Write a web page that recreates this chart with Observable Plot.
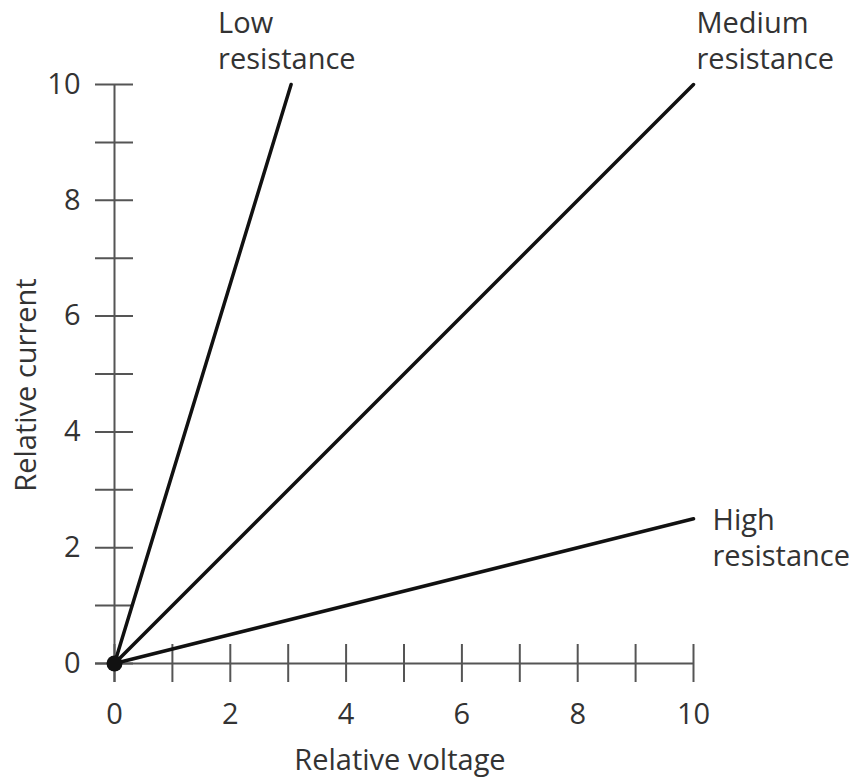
<!DOCTYPE html>
<html><head><meta charset="utf-8">
<script src="https://cdn.jsdelivr.net/npm/d3@7"></script>
<script src="https://cdn.jsdelivr.net/npm/@observablehq/plot@0.6"></script>
<style>html,body{margin:0;padding:0;background:#fff} svg{display:block}</style>
</head><body><div id="chart"></div>
<script>
// Data
const series = ["Low\nresistance", "Medium\nresistance", "High\nresistance"];
const voltageStart = [0, 0, 0];
const currentStart = [0, 0, 0];
const voltageEnd = [3.05, 10, 10];
const currentEnd = [10, 10, 2.5];
const xTicks = [0, 1, 2, 3, 4, 5, 6, 7, 8, 9, 10];
const yTicks = [0, 1, 2, 3, 4, 5, 6, 7, 8, 9, 10];
const xTickLabels = [0, 2, 4, 6, 8, 10];
const yTickLabels = [0, 2, 4, 6, 8, 10];
const xTitle = "Relative voltage";
const yTitle = "Relative current";

const lines = series.flatMap((s, i) => [
  {s, v: voltageStart[i], c: currentStart[i]},
  {s, v: voltageEnd[i], c: currentEnd[i]}
]);
const ends = series.map((s, i) => ({s, v: voltageEnd[i], c: currentEnd[i]}));
const origin = [{v: voltageStart[0], c: currentStart[0]}];

const AX = "#555";
const TXT = "#333";
const FS = 29;
const labelOffsets = [[-73, -16], [3, -16], [19, 47]];

const chart = Plot.plot({
  width: 852, height: 778,
  marginLeft: 114, marginRight: 159, marginTop: 84, marginBottom: 115,
  x: {domain: [0, 10], axis: null},
  y: {domain: [0, 10], axis: null},
  style: {fontFamily: "'Open Sans', sans-serif", background: "#fff", overflow: "visible"},
  marks: [
    // axis lines
    Plot.ruleY([0], {x1: 0, x2: 10, insetLeft: -19, stroke: AX, strokeWidth: 2}),
    Plot.ruleX([0], {y1: 10, y2: 0, insetBottom: -19, stroke: AX, strokeWidth: 2}),
    // crossing ticks
    Plot.ruleX(xTicks, {x: d => d, y1: 0, y2: 0, insetTop: -19, insetBottom: -19, stroke: AX, strokeWidth: 2}),
    Plot.ruleY(yTicks, {y: d => d, x1: 0, x2: 0, insetLeft: -19, insetRight: -19, stroke: AX, strokeWidth: 2}),
    // tick labels
    Plot.text(xTickLabels, {x: d => d, y: 0, text: d => String(d), dy: 51, lineAnchor: "middle", textAnchor: "middle", fontSize: FS, fill: TXT}),
    Plot.text(yTickLabels, {x: 0, y: d => d, text: d => String(d), dx: -34, lineAnchor: "middle", textAnchor: "end", fontSize: FS, fill: TXT}),
    // axis titles
    Plot.text([xTitle], {frameAnchor: "bottom", text: d => d, dx: -4, dy: 106, lineAnchor: "bottom", textAnchor: "middle", fontSize: FS, fill: TXT}),
    Plot.text([yTitle], {frameAnchor: "left", text: d => d, dx: -79, dy: 11, rotate: -90, lineAnchor: "bottom", textAnchor: "middle", fontSize: FS, fill: TXT}),
    // lines
    Plot.line(lines, {x: "v", y: "c", z: "s", stroke: "#111", strokeWidth: 3.5}),
    Plot.dot(origin, {x: "v", y: "c", r: 8, fill: "#111"}),
    // line labels
    ...ends.map((e, i) => Plot.text([e], {x: "v", y: "c", text: "s", dx: labelOffsets[i][0], dy: labelOffsets[i][1], textAnchor: "start", lineAnchor: "bottom", lineHeight: 1.24, fontSize: FS, fill: TXT}))
  ]
});
document.getElementById("chart").appendChild(chart);
</script>
</body></html>
